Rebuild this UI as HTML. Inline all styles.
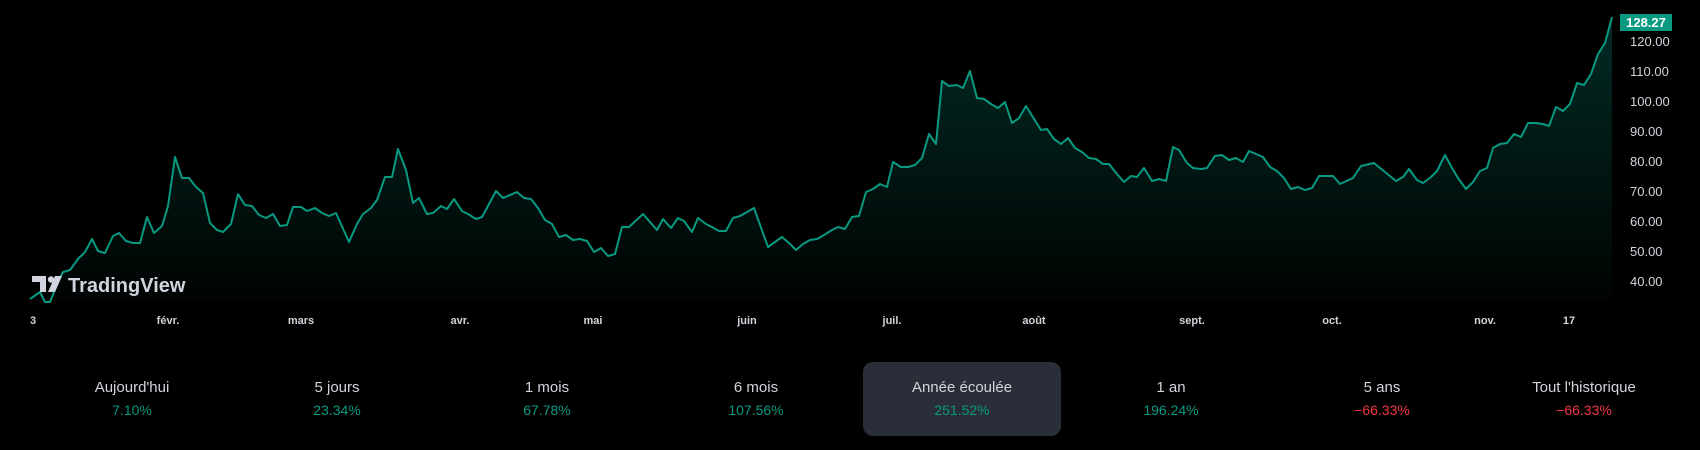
<!DOCTYPE html>
<html><head><meta charset="utf-8"><style>
html,body{margin:0;padding:0;background:#000;width:1700px;height:450px;overflow:hidden;font-family:"Liberation Sans",sans-serif}
svg{position:absolute;left:0;top:0}
</style></head><body>
<svg width="1700" height="450" viewBox="0 0 1700 450" xmlns="http://www.w3.org/2000/svg">
<defs>
<linearGradient id="g" x1="0" y1="17" x2="0" y2="300" gradientUnits="userSpaceOnUse">
<stop offset="0" stop-color="#089981" stop-opacity="0.28"/>
<stop offset="1" stop-color="#089981" stop-opacity="0.02"/>
</linearGradient>
</defs>
<g id="chart">
<polygon fill="url(#g)" points="30,300 30,299 40,292 45,302 50,302 58,282 63,272 70,270 78,259 85,252 92,239 98,251 105,253 113,236 119,233 126,241 133,243 140,243 147,217 154,233 162,226 168,206 175,157 182,178 189,178 196,187 203,193 210,223 217,230 223,232 231,224 238,194 245,205 252,206 259,215 266,218 273,214 280,226 287,225 293,207 301,207 307,211 315,208 322,213 329,216 336,213 349,242 357,224 363,214 371,208 377,200 385,177 392,177 398,149 406,170 413,203 419,198 427,214 433,213 441,206 447,209 454,199 462,211 468,214 476,219 482,217 496,191 503,198 517,192 524,198 531,199 538,208 545,220 552,224 559,237 566,235 573,240 580,239 587,241 594,252 601,248 608,256 615,254 622,227 629,227 643,214 650,222 657,230 663,219 671,228 678,218 684,221 692,232 698,218 706,224 712,227 719,231 726,231 733,218 740,216 747,212 754,208 768,247 782,237 789,243 796,250 803,244 810,240 817,239 824,235 832,230 838,227 845,229 852,217 859,216 866,192 873,189 880,184 887,187 893,162 901,167 908,167 915,165 922,158 929,134 936,144 942,81 949,86 957,85 963,88 970,71 977,98 984,99 991,104 998,108 1005,102 1012,123 1019,118 1026,106 1041,130 1047,129 1054,139 1061,144 1068,138 1075,148 1082,152 1089,158 1096,159 1103,164 1109,164 1117,174 1124,182 1131,176 1137,177 1144,168 1152,181 1159,179 1166,181 1173,147 1179,150 1187,163 1193,168 1201,169 1207,168 1215,156 1222,155 1229,160 1236,158 1243,162 1249,151 1256,154 1263,157 1270,167 1277,171 1284,178 1291,189 1298,187 1305,190 1312,188 1319,176 1333,176 1340,184 1353,178 1361,166 1374,163 1396,181 1403,177 1409,169 1417,180 1423,183 1431,177 1437,171 1445,155 1452,168 1458,178 1466,189 1473,182 1480,171 1487,168 1493,148 1500,144 1507,143 1514,134 1521,137 1528,123 1536,123 1543,124 1549,126 1556,107 1563,111 1570,104 1577,83 1584,85 1591,74 1598,54 1605,43 1612,17 1612,300"/>
<polyline fill="none" stroke="#089981" stroke-width="2" stroke-linejoin="round" points="30,299 40,292 45,302 50,302 58,282 63,272 70,270 78,259 85,252 92,239 98,251 105,253 113,236 119,233 126,241 133,243 140,243 147,217 154,233 162,226 168,206 175,157 182,178 189,178 196,187 203,193 210,223 217,230 223,232 231,224 238,194 245,205 252,206 259,215 266,218 273,214 280,226 287,225 293,207 301,207 307,211 315,208 322,213 329,216 336,213 349,242 357,224 363,214 371,208 377,200 385,177 392,177 398,149 406,170 413,203 419,198 427,214 433,213 441,206 447,209 454,199 462,211 468,214 476,219 482,217 496,191 503,198 517,192 524,198 531,199 538,208 545,220 552,224 559,237 566,235 573,240 580,239 587,241 594,252 601,248 608,256 615,254 622,227 629,227 643,214 650,222 657,230 663,219 671,228 678,218 684,221 692,232 698,218 706,224 712,227 719,231 726,231 733,218 740,216 747,212 754,208 768,247 782,237 789,243 796,250 803,244 810,240 817,239 824,235 832,230 838,227 845,229 852,217 859,216 866,192 873,189 880,184 887,187 893,162 901,167 908,167 915,165 922,158 929,134 936,144 942,81 949,86 957,85 963,88 970,71 977,98 984,99 991,104 998,108 1005,102 1012,123 1019,118 1026,106 1041,130 1047,129 1054,139 1061,144 1068,138 1075,148 1082,152 1089,158 1096,159 1103,164 1109,164 1117,174 1124,182 1131,176 1137,177 1144,168 1152,181 1159,179 1166,181 1173,147 1179,150 1187,163 1193,168 1201,169 1207,168 1215,156 1222,155 1229,160 1236,158 1243,162 1249,151 1256,154 1263,157 1270,167 1277,171 1284,178 1291,189 1298,187 1305,190 1312,188 1319,176 1333,176 1340,184 1353,178 1361,166 1374,163 1396,181 1403,177 1409,169 1417,180 1423,183 1431,177 1437,171 1445,155 1452,168 1458,178 1466,189 1473,182 1480,171 1487,168 1493,148 1500,144 1507,143 1514,134 1521,137 1528,123 1536,123 1543,124 1549,126 1556,107 1563,111 1570,104 1577,83 1584,85 1591,74 1598,54 1605,43 1612,17"/>
</g>
<!-- logo -->
<rect x="0" y="272" width="195" height="24" fill="#000" opacity="0"/>
<g fill="#d1d4dc">
<path d="M32 276 H46 V292 H40 V282 H32 Z"/>
<circle cx="51" cy="279.5" r="3.2"/>
<path d="M55 276 H62 L55 292 H48 Z"/>
</g>
<text x="68" y="292" fill="#d1d4dc" font-size="20" font-weight="bold">TradingView</text>
<!-- price axis -->
<g fill="#d1d4dc" font-size="13" font-family="Liberation Sans,sans-serif">
<text x="1630" y="46">120.00</text>
<text x="1630" y="76">110.00</text>
<text x="1630" y="106">100.00</text>
<text x="1630" y="136">90.00</text>
<text x="1630" y="166">80.00</text>
<text x="1630" y="196">70.00</text>
<text x="1630" y="226">60.00</text>
<text x="1630" y="256">50.00</text>
<text x="1630" y="286">40.00</text>
</g>
<rect x="1620" y="14" width="52" height="17" fill="#089981"/>
<text x="1646" y="27" fill="#fff" font-size="13" font-weight="bold" text-anchor="middle">128.27</text>
<!-- time axis -->
<g fill="#d1d4dc" font-size="11" font-weight="bold" text-anchor="middle">
<text x="33" y="324">3</text>
<text x="168" y="324">févr.</text>
<text x="301" y="324">mars</text>
<text x="460" y="324">avr.</text>
<text x="593" y="324">mai</text>
<text x="747" y="324">juin</text>
<text x="892" y="324">juil.</text>
<text x="1034" y="324">août</text>
<text x="1192" y="324">sept.</text>
<text x="1332" y="324">oct.</text>
<text x="1485" y="324">nov.</text>
<text x="1569" y="324">17</text>
</g>
<!-- stats -->
<rect x="863" y="362" width="198" height="74" rx="10" fill="#2a2e39"/>
<g font-size="15" fill="#d1d4dc" text-anchor="middle">
<text x="132" y="392">Aujourd'hui</text>
<text x="337" y="392">5 jours</text>
<text x="547" y="392">1 mois</text>
<text x="756" y="392">6 mois</text>
<text x="962" y="392">Année écoulée</text>
<text x="1171" y="392">1 an</text>
<text x="1382" y="392">5 ans</text>
<text x="1584" y="392">Tout l'historique</text>
</g>
<g font-size="14" text-anchor="middle">
<text x="132" y="415" fill="#089981">7.10%</text>
<text x="337" y="415" fill="#089981">23.34%</text>
<text x="547" y="415" fill="#089981">67.78%</text>
<text x="756" y="415" fill="#089981">107.56%</text>
<text x="962" y="415" fill="#089981">251.52%</text>
<text x="1171" y="415" fill="#089981">196.24%</text>
<text x="1382" y="415" fill="#f23645">−66.33%</text>
<text x="1584" y="415" fill="#f23645">−66.33%</text>
</g>
</svg>
</body></html>
